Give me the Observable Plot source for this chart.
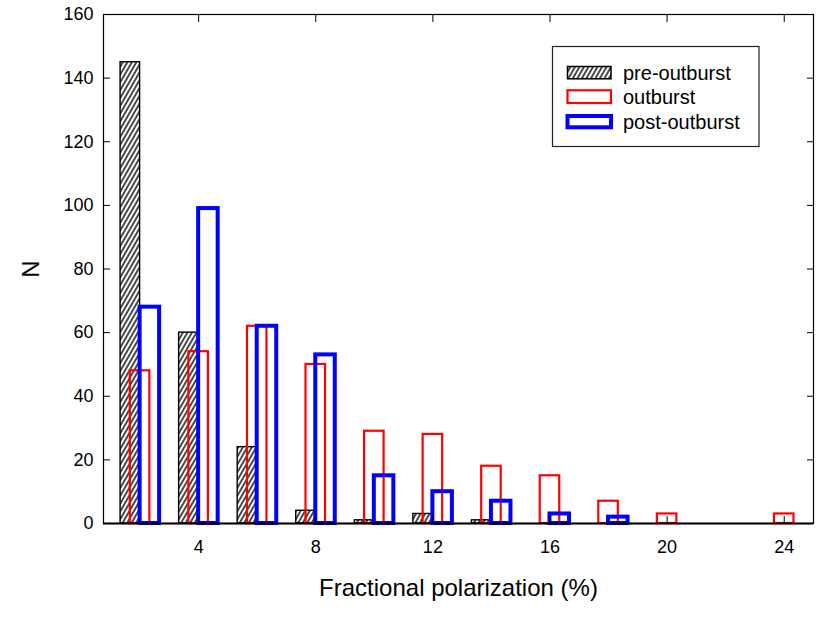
<!DOCTYPE html>
<html><head><meta charset="utf-8">
<script src="https://cdn.jsdelivr.net/npm/d3@7"></script>
<script src="https://cdn.jsdelivr.net/npm/@observablehq/plot@0.6"></script>
<style>
body{margin:0;background:#fff;font-family:"Liberation Sans",Arial,sans-serif;}
#wrap{position:relative;width:830px;height:626px;}
#legend{position:absolute;left:0;top:0;pointer-events:none;}
</style></head><body><div id="wrap"></div>
<script>
const bins = [2,4,6,8,10,12,14,16,18,20,22,24];
const preOutburst = [145,60,24,4,1,3,1,0,0,0,0,0];
const outburst = [48,54,62,50,29,28,18,15,7,3,0,3];
const postOutburst = [68,99,62,53,15,10,7,3,2,0,0,0];
const xTicks = [4,8,12,16,20,24];
const yTicks = [0,20,40,60,80,100,120,140,160];
const seriesNames = ["pre-outburst","outburst","post-outburst"];
const seriesColors = ["#000000","#ff0000","#0000ff"];
const seriesWidths = [1.4,2.2,4];

function rows(values, shift) {
  return bins.map((b, i) => ({x1: b + shift - 1/3, x2: b + shift + 1/3, n: values[i]})).filter(d => d.n > 0);
}

const font = '"Liberation Sans", Arial, sans-serif';
const chart = Plot.plot({
  width: 830, height: 626,
  marginLeft: 103, marginRight: 17, marginTop: 14, marginBottom: 103,
  style: {fontFamily: font, fontSize: "18px", color: "#000", background: "#fff", overflow: "visible"},
  x: {domain: [0.75, 25]},
  y: {domain: [0, 160]},
  marks: [
    Plot.rect(rows(preOutburst, -1/3), {x1: "x1", x2: "x2", y1: d => 0, y2: "n", fill: "url(#hatch)", stroke: seriesColors[0], strokeWidth: seriesWidths[0]}),
    Plot.rect(rows(outburst, 0), {x1: "x1", x2: "x2", y1: d => 0, y2: "n", fill: "none", stroke: seriesColors[1], strokeWidth: seriesWidths[1]}),
    Plot.rect(rows(postOutburst, 1/3), {x1: "x1", x2: "x2", y1: d => 0, y2: "n", fill: "none", stroke: seriesColors[2], strokeWidth: seriesWidths[2]}),
    Plot.frame({stroke: "#000", strokeWidth: 1.2}),
    Plot.ruleY([0], {stroke: "#000", strokeWidth: 2}),
    Plot.axisX(xTicks, {anchor: "bottom", tickSize: -7, tickPadding: 24, label: "Fractional polarization (%)", labelAnchor: "center", labelArrow: "none", labelOffset: 72}),
    Plot.axisX(xTicks, {anchor: "top", tickSize: -7, tickFormat: () => "", label: null}),
    Plot.axisY(yTicks, {anchor: "left", tickSize: -7, tickPadding: 17, label: "N", labelAnchor: "center", labelArrow: "none", labelOffset: 82}),
    Plot.axisY(yTicks, {anchor: "right", tickSize: -7, tickFormat: () => "", label: null})
  ]
});

// hatch pattern: steep "////" stripes
const svg = d3.select(chart);
const defs = svg.insert("defs", ":first-child");
const P = 3.9;
const pat = defs.append("pattern").attr("id", "hatch").attr("patternUnits", "userSpaceOnUse")
  .attr("width", P).attr("height", 10).attr("patternTransform", "rotate(30)");
pat.append("rect").attr("width", P).attr("height", 10).attr("fill", "#fff");
pat.append("line").attr("x1", 1).attr("x2", 1).attr("y1", -1).attr("y2", 11).attr("stroke", "#000").attr("stroke-width", 1.4);

// axis label font size
svg.selectAll("g[aria-label='x-axis label'] text, g[aria-label='y-axis label'] text").style("font-size", "24px");

document.getElementById("wrap").appendChild(chart);

// legend overlay
const leg = d3.select("#wrap").append("svg").attr("id", "legend").attr("width", 830).attr("height", 626);
leg.append("rect").attr("x", 552.5).attr("y", 46.5).attr("width", 206.5).attr("height", 100)
  .attr("fill", "#fff").attr("stroke", "#222").attr("stroke-width", 1.2);
const rowBase = [79.5, 104, 128.5];
const swatchTop = [66.5, 90.3, 116];
const swatchH = [12.3, 12.7, 11.3];
seriesNames.forEach((name, i) => {
  leg.append("rect").attr("x", 567.5).attr("y", swatchTop[i]).attr("width", 43.5).attr("height", swatchH[i])
    .attr("fill", i === 0 ? "url(#hatch)" : "#fff").attr("stroke", seriesColors[i]).attr("stroke-width", i === 0 ? 1.5 : seriesWidths[i]);
  leg.append("text").attr("x", 623).attr("y", rowBase[i]).attr("font-family", font).attr("font-size", 20).attr("fill", "#000").text(name);
});
</script>
</body></html>
